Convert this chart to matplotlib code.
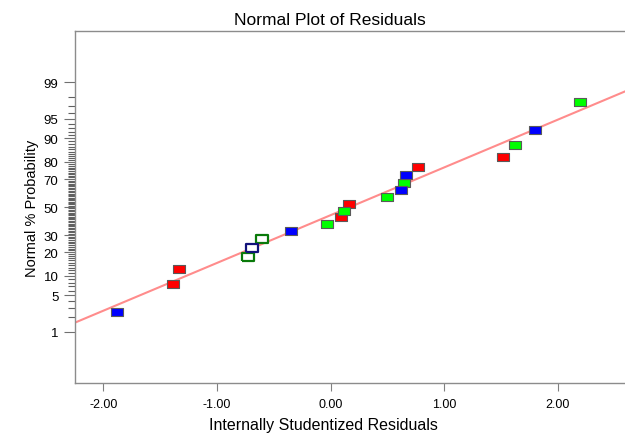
from statistics import NormalDist

import matplotlib

matplotlib.use("Agg")
import matplotlib.pyplot as plt
from matplotlib.ticker import FixedLocator

plt.rcParams["font.family"] = ["Liberation Sans", "DejaVu Sans"]

# residuals, with their plotted normal % probability
residuals = [-1.88, -1.39, -1.33, -0.73, -0.69, -0.60, -0.35, -0.03, 0.09, 0.12,
             0.16, 0.50, 0.62, 0.65, 0.66, 0.77, 1.52, 1.62, 1.80, 2.20]
probability = [2.5, 7.5, 12.5, 17.5, 22.5, 27.5, 32.5, 37.5, 42.5, 47.5,
               52.5, 57.5, 62.5, 67.5, 72.5, 77.5, 82.5, 87.5, 92.5, 97.5]
groups = ["blue", "red", "red", "green_open", "blue_open", "green_open", "blue", "green",
          "red", "green", "red", "green", "blue", "green", "blue", "red", "red", "green",
          "blue", "green"]

# reference line (in normal-quantile units)
line_slope = 0.89
line_intercept = -0.15

major_pct = [1, 5, 10, 20, 30, 50, 70, 80, 90, 95, 99]
minor_pct = list(range(1, 100))

STYLES = {
    "red": dict(facecolor="#ff0000", edgecolor="#5a5a5a", lw=0.8),
    "green": dict(facecolor="#00ff00", edgecolor="#5a5a5a", lw=0.8),
    "blue": dict(facecolor="#0000ff", edgecolor="#5a5a5a", lw=0.8),
    "green_open": dict(facecolor="white", edgecolor="#0a7a0a", lw=1.6),
    "blue_open": dict(facecolor="white", edgecolor="#12127a", lw=1.6),
}

RECT = [(-1.5, -1), (1.5, -1), (1.5, 1), (-1.5, 1), (-1.5, -1)]

nd = NormalDist()


def z(p):
    return nd.inv_cdf(p / 100.0)


fig = plt.figure(figsize=(6.25, 4.35), dpi=100)
ax = fig.add_axes([0.12, 0.117, 0.885, 0.809])

xlim = (-2.25, 2.62)
ax.plot(xlim, [line_intercept + line_slope * v for v in xlim], color="#ff8c8c", lw=1.5, zorder=1)

for key, st in STYLES.items():
    xs = [x for x, g in zip(residuals, groups) if g == key]
    ys = [z(p) for p, g in zip(probability, groups) if g == key]
    ax.plot(xs, ys, linestyle="none", marker=RECT, markersize=8.5,
            markerfacecolor=st["facecolor"], markeredgecolor=st["edgecolor"],
            markeredgewidth=st["lw"], zorder=3)

ax.set_xlim(*xlim)
ax.set_ylim(-3.28, 3.28)

ax.set_xticks([-2, -1, 0, 1, 2])
ax.set_xticklabels(["-2.00", "-1.00", "0.00", "1.00", "2.00"])
ax.set_yticks([z(p) for p in major_pct])
ax.set_yticklabels([str(p) for p in major_pct])
ax.yaxis.set_minor_locator(FixedLocator([z(p) for p in minor_pct if p not in major_pct]))

ax.tick_params(axis="x", which="major", labelsize=9, color="#808080", direction="out",
               length=6, pad=5)
ax.tick_params(axis="y", which="major", labelsize=9.5, color="#707070", direction="out",
               length=8, pad=4)
ax.tick_params(axis="y", which="minor", length=5, color="#606060", width=0.8)

for side in ["left", "bottom", "top"]:
    ax.spines[side].set_color("#8c8c8c")
    ax.spines[side].set_linewidth(1.0)
ax.spines["right"].set_visible(False)

title = ax.set_title("Normal Plot of Residuals", fontsize=12.5, pad=5)
title.set_x(0.46)
ax.set_xlabel("Internally Studentized Residuals", fontsize=11.5)
ax.xaxis.set_label_coords(0.45, -0.095)
ax.set_ylabel("Normal % Probability", fontsize=10.5, labelpad=3)

fig.savefig("out.png", dpi=100)
